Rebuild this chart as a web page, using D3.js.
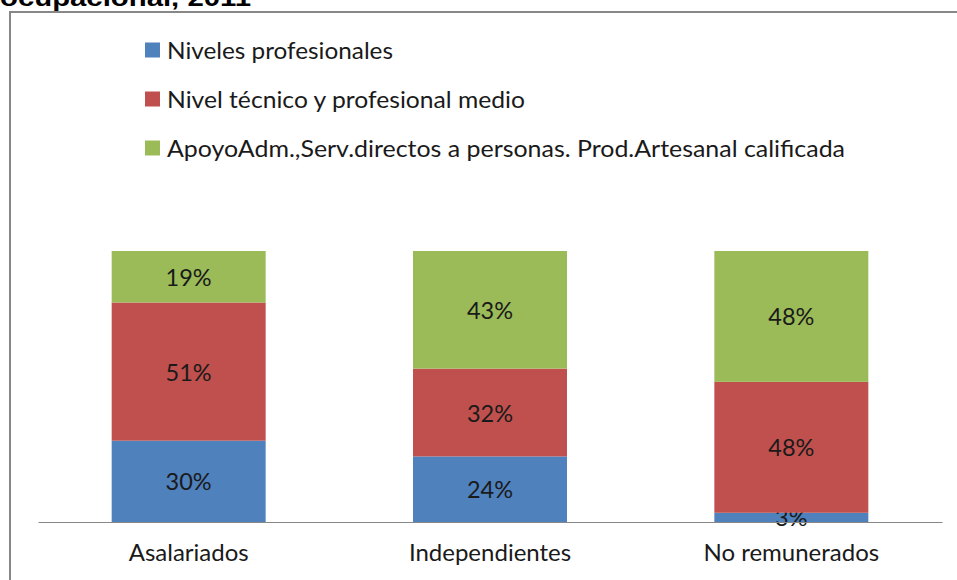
<!DOCTYPE html>
<html>
<head>
<meta charset="utf-8">
<script src="https://cdn.jsdelivr.net/npm/d3@7"></script>
<style>
  body { margin: 0; background: #fff; }
  svg { display: block; }
  text { font-family: Lato, "Noto Sans", sans-serif; fill: #1a1a1a; }
</style>
</head>
<body>
<svg width="957" height="580"></svg>
<script>
var categories = ['Asalariados', 'Independientes', 'No remunerados']
var seriesNames = ['Niveles profesionales', 'Nivel técnico y profesional medio',
    'ApoyoAdm.,Serv.directos a personas. Prod.Artesanal calificada']
var profesionales = [0.30, 0.242, 0.034]
var tecnico = [0.51, 0.324, 0.483]
var apoyo = [0.19, 0.434, 0.483]
var colors = ['#4F81BD', '#C0504D', '#9BBB59']

var rows = categories.map((c, i) => ({ cat: c, s0: profesionales[i], s1: tecnico[i], s2: apoyo[i] }))
var keys = ['s0', 's1', 's2']

var svg = d3.select('svg')

// titulo cortado arriba
svg.append('text').attr('x', 0).attr('y', 6)
    .attr('textLength', 251).attr('lengthAdjust', 'spacingAndGlyphs')
    .style('font-family', '"Liberation Sans", Arial, sans-serif')
    .style('font-weight', 'bold').style('font-size', '24px').style('fill', '#000')
    .text('ocupacional, 2011')

// borde del grafico
svg.append('rect').attr('x', 10).attr('y', 12).attr('width', 1000).attr('height', 600)
    .style('fill', 'none').style('stroke', '#878787').style('stroke-width', 2)

var x = d3.scaleBand().domain(categories).range([38, 942]).paddingInner(0).paddingOuter(0)
var y = d3.scaleLinear().domain([0, 1]).range([522, 251])
var barW = x.bandwidth() * 0.511

var stacked = d3.stack().keys(keys)(rows)

var layers = svg.selectAll('g.layer').data(stacked).enter().append('g')
    .attr('class', 'layer').style('fill', (d, i) => colors[i])

layers.selectAll('rect').data(d => d).enter().append('rect')
    .attr('x', d => x(d.data.cat) + x.bandwidth() / 2 - barW / 2)
    .attr('width', barW)
    .attr('y', d => y(d[1]))
    .attr('height', d => y(d[0]) - y(d[1]))

// eje x
var xAxis = d3.axisBottom(x).tickSize(0).tickPadding(22)
var gx = svg.append('g').attr('transform', 'translate(0,522)').call(xAxis)
gx.select('path.domain').style('stroke', '#878787').style('stroke-width', 1.2)
gx.selectAll('text').style('font-family', 'Lato, sans-serif').style('font-size', '24px')
    .style('fill', '#1a1a1a')

// etiquetas de datos
layers.selectAll('text.lbl').data(d => d).enter().append('text')
    .attr('class', 'lbl')
    .attr('x', d => x(d.data.cat) + x.bandwidth() / 2)
    .attr('y', d => (y(d[0]) + y(d[1])) / 2 + 9)
    .attr('text-anchor', 'middle')
    .style('font-size', '23.5px').style('fill', '#1a1a1a')
    .text(d => Math.round((d[1] - d[0]) * 100) + '%')

// leyenda
var legW = [226, 358, 678]
var leg = svg.selectAll('g.leg').data(seriesNames).enter().append('g')
    .attr('class', 'leg').attr('transform', (d, i) => 'translate(145,' + (50 + i * 49) + ')')
leg.append('rect').attr('x', 0).attr('y', -7.5).attr('width', 15).attr('height', 15)
    .style('fill', (d, i) => colors[i])
leg.append('text').attr('x', 22).attr('y', 8.5)
    .attr('textLength', (d, i) => legW[i]).attr('lengthAdjust', 'spacingAndGlyphs')
    .style('font-size', '24px')
    .text(d => d)
</script>
</body>
</html>
